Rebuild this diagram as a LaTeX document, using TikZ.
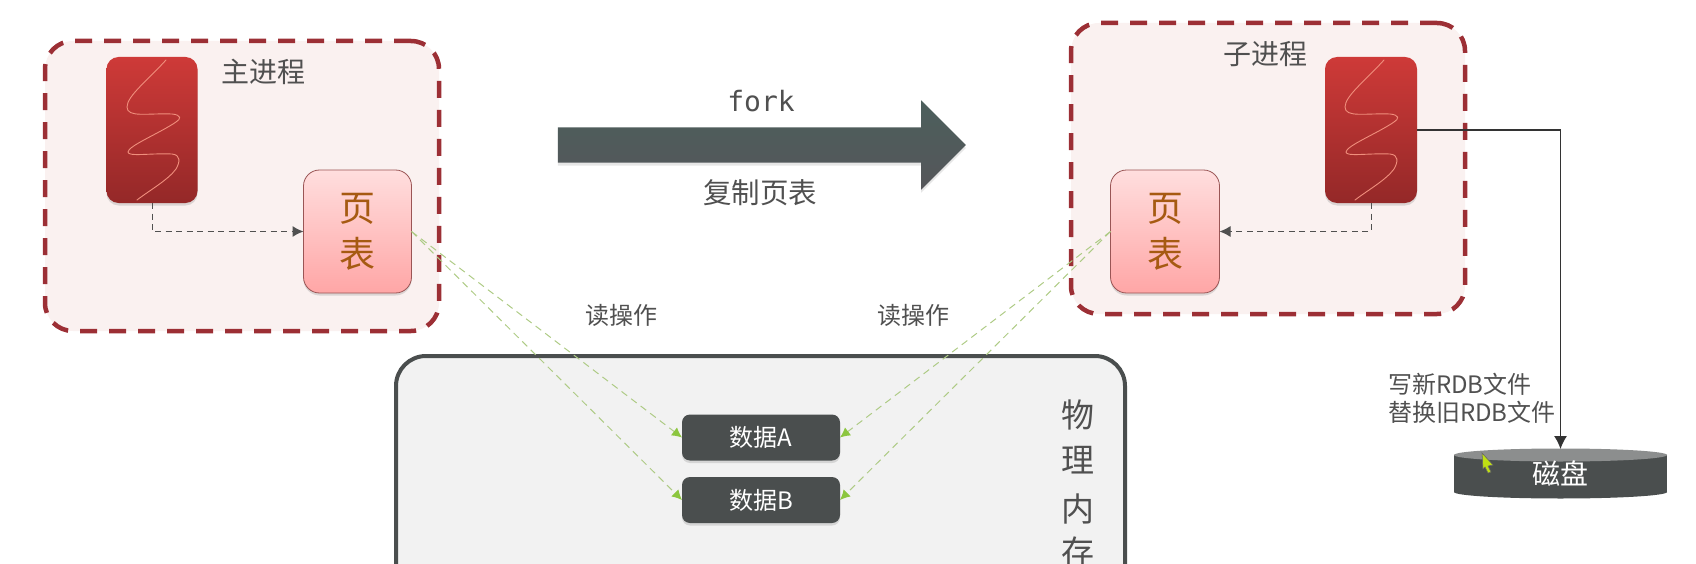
\documentclass[tikz,border=0pt]{standalone}
\usepackage{fontspec}
\setmainfont{Noto Sans CJK SC}
\newfontfamily\forkfont{DejaVu Sans Mono}
\usetikzlibrary{arrows.meta,shapes.geometric,shapes.arrows,shadows}
\definecolor{procfill}{HTML}{FAF1F0}
\definecolor{procline}{HTML}{9C2F35}
\definecolor{txt}{HTML}{505050}
\definecolor{dark}{HTML}{4A4E4E}
\definecolor{disktop}{HTML}{8C8E8E}
\definecolor{grnline}{HTML}{AECB85}
\definecolor{grntip}{HTML}{8CC63F}
\definecolor{pageline}{HTML}{9A5555}
\definecolor{pagetxt}{HTML}{A65A12}
\definecolor{sqcol}{HTML}{F08E7C}
\definecolor{thrtop}{HTML}{CE3A38}
\definecolor{thrbot}{HTML}{942828}
\definecolor{pagetop}{HTML}{FFDEDE}
\definecolor{pagebot}{HTML}{FFA6A6}
\definecolor{arrtop}{HTML}{4C5F5C}
\definecolor{arrbot}{HTML}{55565A}
\newcommand{\fs}[1]{\fontsize{#1}{#1}\selectfont}
\tikzset{
  every node/.style={outer sep=0pt,inner sep=0pt},
  softshadow/.style={drop shadow={opacity=.25,shadow xshift=0pt,shadow yshift=-2.5pt}},
  procbox/.style={draw=procline,fill=procfill,line width=4.5pt,dash pattern=on 17pt off 12pt,rounded corners=28pt,anchor=north west},
  thrbox/.style={rounded corners=12pt,top color=thrtop,bottom color=thrbot,softshadow,minimum width=#1,minimum height=146pt},
  pagebox/.style={draw=pageline,line width=.8pt,rounded corners=16pt,top color=pagetop,bottom color=pagebot,softshadow,text=pagetxt,font=\fs{36},align=center,minimum height=123pt,minimum width=#1},
  databox/.style={rounded corners=8pt,fill=dark,text=white,font=\fs{24},minimum width=158pt,minimum height=46pt,softshadow},
  lab/.style={text=txt,font=\fs{#1}},
  dashconn/.style={draw=txt,line width=1pt,dash pattern=on 6pt off 4.5pt,-{Latex[length=11pt,width=11pt]}},
  grnconn/.style={draw=grnline,line width=1pt,dash pattern=on 7pt off 5pt,-{Latex[length=10pt,width=10pt,color=grntip]}},
  squig/.style={draw=sqcol,line width=.9pt,line cap=round},
}
\newcommand{\squiggle}{%
  (166,60) .. controls (148,80) and (127,96) .. (127,107)
  .. controls (127,118) and (148,113) .. (172,114)
  .. controls (182,115) and (181,119) .. (176,122)
  .. controls (160,133) and (128,146) .. (128,152)
  .. controls (128,157) and (150,153) .. (172,154)
  .. controls (181,155) and (180,162) .. (176,169)
  .. controls (168,180) and (150,190) .. (137,200)}
\begin{document}
\begin{tikzpicture}[x=1pt,y=-1pt]
\path[use as bounding box,clip] (0,0) rectangle (1696,564);
% process frames
\node[procbox,minimum width=394pt,minimum height=290pt] (mainproc) at (45,41) {};
\node[procbox,minimum width=394pt,minimum height=291pt] (subproc) at (1071,23) {};
% threads
\node[thrbox=91pt] (thr1) at (152,130) {};
\draw[squig] \squiggle;
\node[thrbox=92pt] (thr2) at (1371,130) {};
\begin{scope}[xshift=1218pt]
\draw[squig] \squiggle;
\end{scope}
% page tables
\node[pagebox=108pt] (pg1) at (357.5,231.5) {页\\[10pt]表};
\node[pagebox=109pt] (pg2) at (1165,231.5) {页\\[10pt]表};
% labels
\node[lab=28] (lmain) at (263,72) {主进程};
\node[lab=28] (lsub) at (1265.5,54) {子进程};
% fork arrow
\node[single arrow,inner sep=17.5pt,minimum height=408pt,single arrow head extend=27pt,single arrow head indent=0pt,single arrow tip angle=90,top color=arrtop,bottom color=arrbot,drop shadow={opacity=.2,shadow xshift=0pt,shadow yshift=-3pt}] (forkarrow) at (753,145) {};
\node[text=txt,font=\forkfont\fs{28}] (forklab) at (761,101) {fork};
\node[lab=28.5] (copylab) at (760,193) {复制页表};
% memory
\node[draw=dark,fill=black!5,line width=4pt,rounded corners=30pt,anchor=north west,minimum width=729pt,minimum height=400pt] (mem) at (396,356) {};
\node[databox] (dA) at (761,437.5) {数据A};
\node[databox] (dB) at (761,500) {数据B};
\node[lab=33] (m1) at (1078,415) {物};
\node[lab=33] (m2) at (1078,460) {理};
\node[lab=33] (m3) at (1078,509) {内};
\node[lab=33] (m4) at (1078,552) {存};
\node[lab=24] (r1) at (621,315) {读操作};
\node[lab=24] (r2) at (913,315) {读操作};
% disk
\fill[dark] (1560.5pt,-492pt) ellipse [x radius=106.5pt,y radius=6.5pt];
\fill[dark] (1454,455) rectangle (1667,492);
\fill[disktop] (1560.5pt,-455pt) ellipse [x radius=106.5pt,y radius=6.5pt];
\node[minimum width=213pt,minimum height=49pt,text=white,font=\fs{28}] (disk) at (1560.5,473.5) {\raisebox{-3pt}{磁盘}};
\node[lab=24,align=left,anchor=west] (wr) at (1388,398.5) {写新RDB文件\\[4pt]替换旧RDB文件};
% connectors
\draw[dashconn] (thr1.south) |- (pg1.west);
\draw[dashconn] (thr2.south) |- (pg2.east);
\draw[grnconn] (pg1.east) -- (dA.west);
\draw[grnconn] (pg1.east) -- (dB.west);
\draw[grnconn] (pg2.west) -- (dA.east);
\draw[grnconn] (pg2.west) -- (dB.east);
\draw[draw=black!80,line width=1.2pt,-{Latex[length=13pt,width=13pt]}] (thr2.east) -| (disk.north);
% pointer
\fill[draw=black!60,fill=yellow!75!green,line width=.6pt] (1482,453) -- (1493,465) -- (1488,466) -- (1491,472) -- (1488,473) -- (1485,467) -- (1483,469) -- cycle;
\end{tikzpicture}
\end{document}
